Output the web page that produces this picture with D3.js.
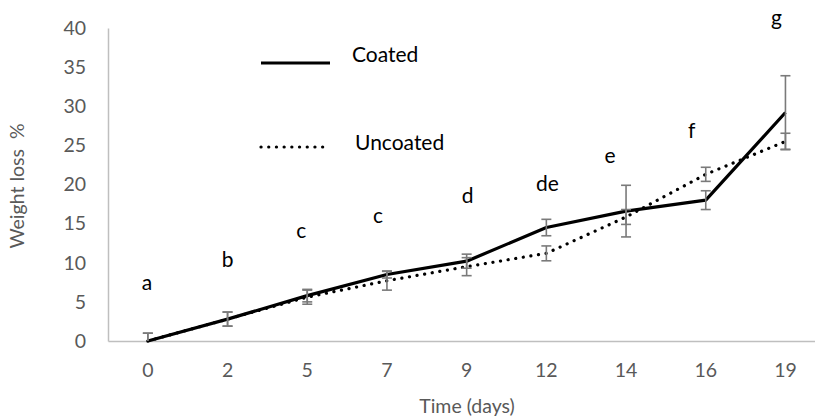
<!DOCTYPE html>
<html>
<head>
<meta charset="utf-8">
<script src="https://cdn.jsdelivr.net/npm/d3@7"></script>
<style>
  body { margin: 0; background: #fff; }
  text { font-family: Lato, "Open Sans", sans-serif; white-space: pre; }
</style>
</head>
<body>
<script>
const days = ["0", "2", "5", "7", "9", "12", "14", "16", "19"];
const coated = [0, 2.8, 5.8, 8.5, 10.2, 14.5, 16.6, 18.0, 29.2];
const coatedErr = [1.0, 0.9, 0.8, 0.45, 0.9, 1.05, 3.3, 1.2, 4.7];
const uncoated = [0, 2.8, 5.6, 7.7, 9.5, 11.2, 15.85, 21.3, 25.5];
const uncoatedErr = [1.0, 0.9, 0.9, 1.2, 1.15, 0.95, 0.95, 0.9, 1.05];
const yTicks = [0, 5, 10, 15, 20, 25, 30, 35, 40];
// significance letters: text, day, height in % units
const letters = ["a", "b", "c", "c", "d", "de", "e", "f", "g"];
const letterY = [7.2, 10.1, 13.8, 15.7, 18.3, 19.8, 23.4, 26.6, 41.0];
const letterDx = [-1, 0, -6, -9, 1, 1, -16, -14, -9];

const width = 815, height = 419;
const svg = d3.select('body')
        .append('svg')
        .attr('width', width)
        .attr('height', height);

const x = d3.scaleBand()
        .domain(days)
        .range([108, 108 + 9 * 79.7])
        .padding(0);
const cx = d => x(d) + x.bandwidth() / 2;

const y = d3.scaleLinear()
        .domain([0, 40])
        .range([341, 28]);

// y axis
const yAxis = d3.axisLeft(y).tickValues(yTicks).tickSize(0).tickPadding(22);
const gy = svg.append('g')
        .attr('transform', 'translate(108,0)')
        .call(yAxis);
gy.select('.domain').attr('stroke', '#bfbfbf').attr('stroke-width', 1.5);
gy.selectAll('text').attr('fill', '#595959').style('font-size', '19.5px');

// x axis
const xAxis = d3.axisBottom(x).tickSize(0).tickPadding(22);
const gx = svg.append('g')
        .attr('transform', 'translate(0,341)')
        .call(xAxis);
gx.select('.domain').attr('stroke', '#bfbfbf').attr('stroke-width', 1.5);
gx.selectAll('text').attr('fill', '#595959').style('font-size', '19.5px');

// titles
svg.append('text')
        .attr('x', 467).attr('y', 408)
        .attr('text-anchor', 'middle').attr('dominant-baseline', 'middle')
        .attr('fill', '#595959').style('font-size', '19.5px')
        .text('Time (days)');
svg.append('text')
        .attr('transform', 'translate(19,186) rotate(-90)')
        .attr('text-anchor', 'middle').attr('dominant-baseline', 'middle')
        .attr('fill', '#595959').style('font-size', '19.5px')
        .text('Weight loss  %');

const line = d3.line()
        .x((d, i) => cx(days[i]))
        .y(d => y(d));

svg.append('path')
        .datum(coated)
        .attr('d', line)
        .attr('fill', 'none')
        .attr('stroke', '#000')
        .attr('stroke-width', 3.2)
        .attr('stroke-linejoin', 'round');

svg.append('path')
        .datum(uncoated)
        .attr('d', line)
        .attr('fill', 'none')
        .attr('stroke', '#000')
        .attr('stroke-width', 3.2)
        .attr('stroke-linecap', 'round')
        .attr('stroke-dasharray', '0.1 7.6');

// error bars
function errorBars(vals, errs) {
        const g = svg.append('g')
                .attr('stroke', '#7a7a7a')
                .attr('stroke-width', 1.6);
        vals.forEach((v, i) => {
                const xc = cx(days[i]);
                const lo = Math.max(0, v - errs[i]), hi = v + errs[i];
                g.append('line').attr('x1', xc).attr('x2', xc)
                        .attr('y1', y(lo)).attr('y2', y(hi));
                g.append('line').attr('x1', xc - 5).attr('x2', xc + 5)
                        .attr('y1', y(hi)).attr('y2', y(hi));
                if (v - errs[i] >= 0) {
                        g.append('line').attr('x1', xc - 5).attr('x2', xc + 5)
                                .attr('y1', y(lo)).attr('y2', y(lo));
                }
        });
}
errorBars(coated, coatedErr);
errorBars(uncoated, uncoatedErr);

// letters
svg.selectAll('text.letter')
        .data(letters)
        .enter()
        .append('text')
        .attr('class', 'letter')
        .attr('x', (d, i) => cx(days[i]) + letterDx[i])
        .attr('y', (d, i) => y(letterY[i]))
        .attr('text-anchor', 'middle')
        .attr('dominant-baseline', 'middle')
        .attr('fill', '#000')
        .style('font-size', '21px')
        .text(d => d);

// legend
const legend = svg.append('g');
legend.append('line')
        .attr('x1', 261).attr('x2', 330).attr('y1', 63).attr('y2', 63)
        .attr('stroke', '#000').attr('stroke-width', 3.2);
legend.append('text')
        .attr('x', 352).attr('y', 57)
        .attr('dominant-baseline', 'middle')
        .style('font-size', '21px')
        .text('Coated');
legend.append('line')
        .attr('x1', 261).attr('x2', 330).attr('y1', 147).attr('y2', 147)
        .attr('stroke', '#000').attr('stroke-width', 3.2)
        .attr('stroke-linecap', 'round').attr('stroke-dasharray', '0.1 7.6');
legend.append('text')
        .attr('x', 355).attr('y', 145)
        .attr('dominant-baseline', 'middle')
        .style('font-size', '21px')
        .text('Uncoated');
</script>
</body>
</html>
